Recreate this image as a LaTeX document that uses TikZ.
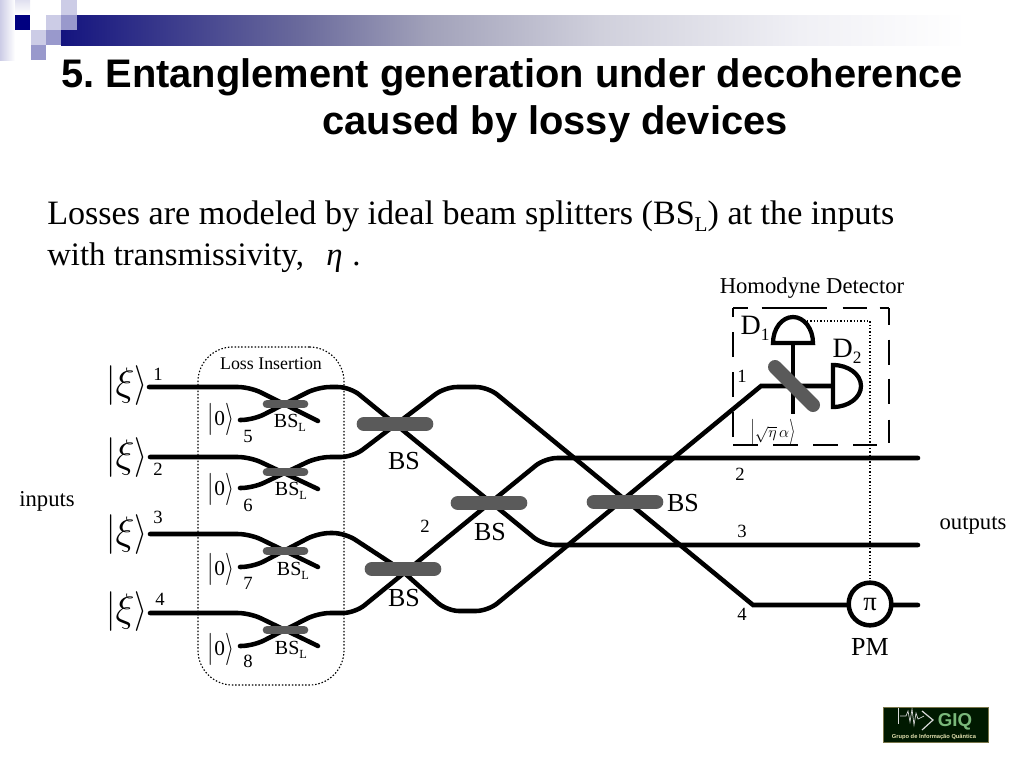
\documentclass[tikz,border=0pt]{standalone}
\usepackage{graphicx}
\usepackage{fontspec}
\setmainfont{Liberation Serif}
\newfontfamily\arialf{Liberation Sans}
\frenchspacing
\definecolor{barcol}{HTML}{5A5A5A}
\definecolor{navy}{HTML}{000080}
\definecolor{sqlight}{HTML}{CCCCE6}
\definecolor{sqmid}{HTML}{9999CC}
\definecolor{g0}{HTML}{14147F}
\definecolor{g1}{HTML}{6A6A9C}
\definecolor{g2}{HTML}{A2A2BA}
\definecolor{g3}{HTML}{D0D0DC}
\definecolor{g4}{HTML}{F0F0F5}
\pgfdeclarehorizontalshading{titlebar}{100bp}{color(0bp)=(g0); color(25bp)=(g0); color(37.4bp)=(g1); color(44.2bp)=(g2); color(53bp)=(g3); color(63.4bp)=(g4); color(72bp)=(white); color(100bp)=(white)}
% ket: #1 = vertical stretch of the delimiters, #2 = content in math mode
\newcommand{\myket}[2]{\raisebox{-0.07em}{\scalebox{1}[#1]{$|$}}$#2$\raisebox{-0.07em}{\scalebox{1}[#1]{$\rangle$}}}
\newcommand{\ketxi}{{\fontsize{24}{24}\selectfont\myket{1.2}{\hbox{\raisebox{-0.05em}{\scalebox{1.2}{$\xi$}}}}}}
\newcommand{\ketzero}{{\fontsize{16}{16}\selectfont\myket{1.4}{\mathrm{0}}}}
\newcommand{\subtxt}[1]{\raisebox{-0.22em}{\scalebox{0.62}{#1}}}
\tikzset{
  wire/.style={line width=3.4pt,line cap=round,rounded corners=9pt},
  bsbar/.style={line width=11pt,line cap=round,barcol},
  bslbar/.style={line width=6.5pt,line cap=round,barcol},
  lab/.style={inner sep=0pt,font=\fontsize{14}{14}\selectfont},
  bstext/.style={inner sep=0pt,font=\fontsize{19.5}{19.5}\selectfont},
  bsltext/.style={inner sep=0pt,font=\fontsize{15}{15}\selectfont},
  smalltext/.style={inner sep=0pt,font=\fontsize{17}{17}\selectfont},
  ket/.style={inner sep=0pt},
  detector/.style={line width=3.2pt,fill=white},
  box/.style={line width=1pt},
  dotline/.style={line width=0.85pt,dash pattern=on 1.1pt off 1.4pt},
  titletext/.style={inner sep=0pt,anchor=base,font=\arialf\bfseries\fontsize{29.9}{29.9}\selectfont},
}
\begin{document}
\begin{tikzpicture}[x=0.75pt,y=-0.75pt]
\useasboundingbox (0,0) rectangle (1024,768);
% decoration
\shade[shading=titlebar] (61,15) rectangle (1024,45.5);
\fill[left color=sqlight,right color=white] (0,0) rectangle (15,60);
\fill[top color=sqlight!60,bottom color=white] (15,0) rectangle (30,15);
\fill[navy] (15,15) rectangle (30,30);
\fill[sqlight] (46,15) rectangle (61,30);
\fill[sqmid] (61,15) rectangle (77,30);
\fill[sqlight] (61,0) rectangle (77,15);
\fill[sqlight] (31,30) rectangle (46,45);
\fill[sqmid] (46,30) rectangle (61,45);
\fill[sqmid] (31,45) rectangle (46,60);
% title and body
\node[titletext] (title1) at (512,87) {5. Entanglement generation under decoherence};
\node[titletext] (title2) at (555,134) {caused by lossy devices};
\node[inner sep=0pt,anchor=base west,font=\fontsize{25.6}{25.6}\selectfont] (body1) at (47,224) {Losses are modeled by ideal beam splitters (BS\subtxt{L}) at the inputs};
\node[inner sep=0pt,anchor=base west,font=\fontsize{24.6}{24.6}\selectfont] (body2) at (47,265) {with transmissivity,};
\node[inner sep=0pt,anchor=base west,font=\fontsize{24.6}{24.6}\selectfont\itshape] (body3) at (326,265) {η};
\node[inner sep=0pt,anchor=base west,font=\fontsize{24.6}{24.6}\selectfont] (body4) at (352,265) {.};
% loss box
\node[draw,dotline,rounded corners=26pt,minimum width=146*0.75pt,minimum height=338*0.75pt,inner sep=0pt] (loss) at (271,516) {};
\node[inner sep=0pt,font=\fontsize{13.4}{13.4}\selectfont] (losslab) at (271,364) {Loss Insertion};
% wire ends
\coordinate (i1) at (149,387); \coordinate (i2) at (150,457);
\coordinate (i3) at (150,534); \coordinate (i4) at (150,613);
\coordinate (v5) at (240,420); \coordinate (v6) at (240,488);
\coordinate (v7) at (240,567); \coordinate (v8) at (240,646);
\coordinate (o1) at (833,386); \coordinate (o2) at (918,458);
\coordinate (o3) at (918,545); \coordinate (o4) at (918,605);
% inputs and loss beam splitters
\draw[wire] (i1) -- (250,387) -- (318,421);
\draw[wire] (i2) -- (250,457) -- (318,489);
\draw[wire] (i3) -- (250,534) -- (318,567);
\draw[wire] (i4) -- (250,613) -- (318,646);
\draw[wire] (v5) -- (253,420) -- (318,387) -- (350,387) -- (543,545) -- (o3);
\draw[wire] (v6) -- (253,488) -- (318,457) -- (353,457) -- (445,387) -- (488,387) [sharp corners] -- (753,605) -- (o4);
\draw[wire] (v7) -- (253,567) -- (318,533) -- (345,533) -- (400,569) -- (447,611) -- (488,611) [sharp corners] -- (761,386) -- (o1);
\draw[wire] (v8) -- (253,646) -- (318,613) -- (355,613) -- (545,458) -- (o2);
% beam splitter bars
\draw[bslbar] (267,404) coordinate (bl1a) -- (304,404) coordinate (bl1b);
\draw[bslbar] (267,472) coordinate (bl2a) -- (304,472) coordinate (bl2b);
\draw[bslbar] (267,551) coordinate (bl3a) -- (304,551) coordinate (bl3b);
\draw[bslbar] (267,630) coordinate (bl4a) -- (304,630) coordinate (bl4b);
\draw[bsbar] (364,424) coordinate (b1a) -- (426,424) coordinate (b1b);
\draw[bsbar] (458,503) coordinate (b2a) -- (520,503) coordinate (b2b);
\draw[bsbar] (372,569) coordinate (b3a) -- (434,569) coordinate (b3b);
\draw[bsbar] (594,502) coordinate (b4a) -- (656,502) coordinate (b4b);
% detectors
\draw[line width=3.2pt] (793,343) -- (793,414);
\draw[dotline] (807,321) -- (870,321) -- (870,583);
\draw[detector] (773,343) arc[start angle=180,end angle=0,x radius=20,y radius=-26] -- cycle;
\draw[detector] (833,365) arc[start angle=90,end angle=-90,x radius=28,y radius=-21] -- cycle;
\draw[line width=10.5pt,line cap=round,barcol] (775,367) -- (813,405);
\node[draw,circle,line width=3.4pt,fill=white,minimum size=32pt,inner sep=0pt,font=\fontsize{20}{20}\selectfont] (pm) at (870,604) {π};
% homodyne box
\coordinate (hNW) at (733,308); \coordinate (hNE) at (889,308);
\coordinate (hSW) at (733,445); \coordinate (hSE) at (889,445);
\draw[box,dash pattern=on 18.75pt off 11.25pt] (733,437) -- (hNW);
\draw[box,dash pattern=on 11pt off 10.5pt on 48.75pt off 12pt on 18pt off 9.75pt on 8pt] (hNW) -- (hNE);
\draw[box,dash pattern=on 12.5pt off 11.25pt on 18.75pt off 10.5pt on 18.75pt off 12pt on 18pt] (hNE) -- (889,443);
\draw[box,dash pattern=on 18.75pt off 11.25pt] (hSW) -- (877,445);
% labels
\node[smalltext] (hd) at (812,288) {Homodyne Detector};
\node[inner sep=0pt,font=\fontsize{21}{21}\selectfont] (d1) at (755,328) {D\subtxt{1}};
\node[inner sep=0pt,font=\fontsize{21}{21}\selectfont] (d2) at (847,351) {D\subtxt{2}};
\node[inner sep=0pt,font=\fontsize{11.5}{11.5}\selectfont] (sq) at (773,432) {\myket{1.6}{\sqrt{\eta}\,\alpha}};
\node[bstext] (pml) at (870,647) {PM};
\node[bstext] (t1) at (404,461) {BS};
\node[bstext] (t2) at (490,532) {BS};
\node[bstext] (t3) at (683,503) {BS};
\node[bstext] (t4) at (404,598) {BS};
\node[bsltext] (s1) at (290,423) {BS\subtxt{L}};
\node[bsltext] (s2) at (291,491) {BS\subtxt{L}};
\node[bsltext] (s3) at (293,571) {BS\subtxt{L}};
\node[bsltext] (s4) at (291,650) {BS\subtxt{L}};
\node[smalltext] (inp) at (47,501) {inputs};
\node[smalltext] (outp) at (973,526) {outputs};
\node[ket] (k1) at (127,386) {\ketxi};
\node[ket] (k2) at (127,458) {\ketxi};
\node[ket] (k3) at (127,535) {\ketxi};
\node[ket] (k4) at (127,612) {\ketxi};
\node[ket] (z1) at (221,419) {\ketzero};
\node[ket] (z2) at (221,489) {\ketzero};
\node[ket] (z3) at (221,569) {\ketzero};
\node[ket] (z4) at (221,649) {\ketzero};
\node[lab] (n1) at (158,374) {1};
\node[lab] (n2) at (158,469) {2};
\node[lab] (n3) at (158,517) {3};
\node[lab] (n4) at (160,599) {4};
\node[lab] (n5) at (248,436) {5};
\node[lab] (n6) at (248,505) {6};
\node[lab] (n7) at (248,583) {7};
\node[lab] (n8) at (248,661) {8};
\node[lab] (m2) at (425,526) {2};
\node[lab] (r1) at (742,376) {1};
\node[lab] (r2) at (740,474) {2};
\node[lab] (r3) at (742,531) {3};
\node[lab] (r4) at (742,614) {4};
% logo
\fill[black!90!green,draw=yellow!40!black,line width=0.5pt] (883,707) rectangle (988,742);
\draw[white!85!black,line width=0.6pt] (898,708) -- (898,724);
\draw[white!85!black,line width=0.5pt] (900,716) -- (906,716) -- (908,711) -- (910,722) -- (912,709) -- (914,725) -- (916,713) -- (918,719) -- (924,716);
\draw[white!85!black,line width=0.9pt] (922,711) -- (933,720) -- (922,730);
\node[inner sep=0pt,text=green!30!gray!80!white,font=\arialf\bfseries\fontsize{14}{14}\selectfont] (giq) at (955,722) {GIQ};
\node[inner sep=0pt,text=yellow!30!white!75!gray,font=\arialf\bfseries\fontsize{4.3}{4.3}\selectfont] (giqs) at (934,737) {Grupo de Informação Quântica};
\end{tikzpicture}
\end{document}
